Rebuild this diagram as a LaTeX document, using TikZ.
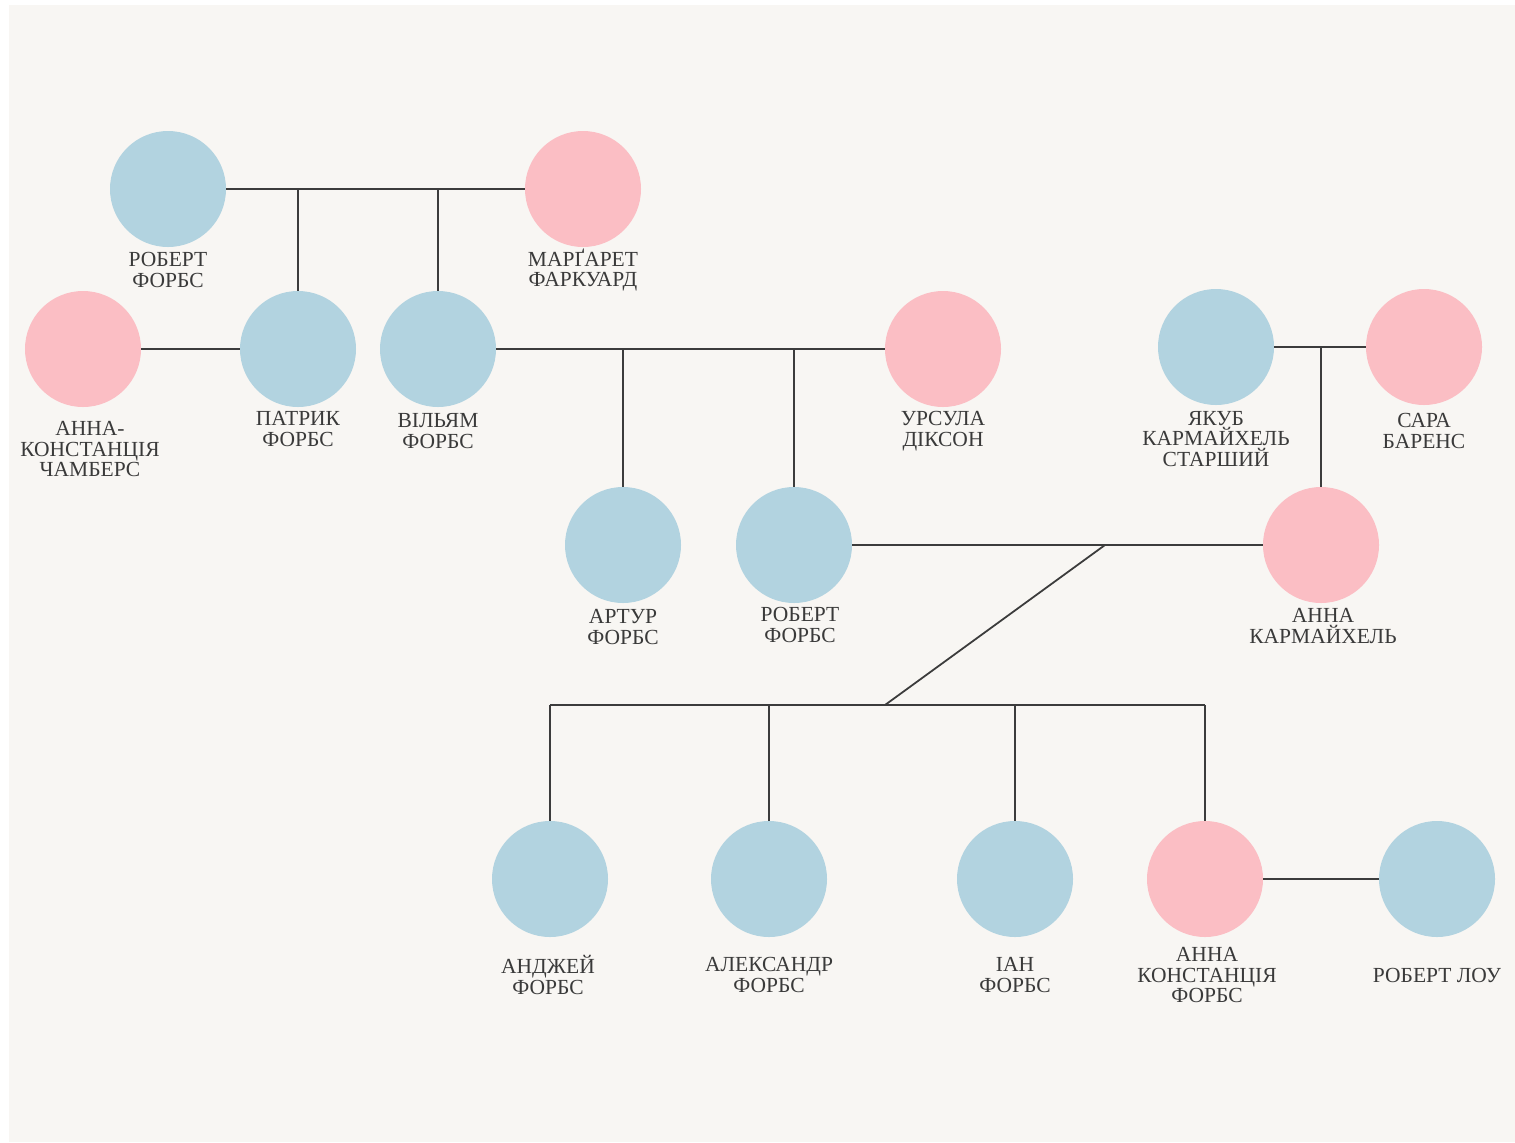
\documentclass[tikz,border=0pt]{standalone}
\usepackage{fontspec}
\setmainfont{Liberation Serif}
\definecolor{bgc}{HTML}{F8F6F3}
\definecolor{boy}{HTML}{B2D3E0}
\definecolor{girl}{HTML}{FBBEC4}
\definecolor{linec}{HTML}{3C3C3C}
\definecolor{txtc}{HTML}{3A3A3A}
\tikzset{
  person/.style={circle, minimum size=116bp, inner sep=0pt, draw=none},
  male/.style={person, fill=boy},
  female/.style={person, fill=girl},
  pname/.style={align=center, text=txtc, inner sep=0pt,
    font=\fontsize{21.5bp}{20.8bp}\selectfont},
  link/.style={draw=linec, line width=1.8bp},
}
\begin{document}
\begin{tikzpicture}[x=1bp,y=-1bp]
\useasboundingbox (0,0) rectangle (1515,1142);
\fill[white] (0,0) rectangle (1515,1142);
\fill[bgc] (9,5) rectangle (1515,1142);

% people
\node[male]   (rf1) at (168,189) {};
\node[female] (mf)  at (583,189) {};
\node[female] (acc) at (83,349) {};
\node[male]   (pf)  at (298,349) {};
\node[male]   (wf)  at (438,349) {};
\node[female] (ud)  at (943,349) {};
\node[male]   (jk)  at (1216,347) {};
\node[female] (sb)  at (1424,347) {};
\node[male]   (af)  at (623,545) {};
\node[male]   (rf2) at (794,545) {};
\node[female] (ak)  at (1321,545) {};
\node[male]   (anf) at (550,879) {};
\node[male]   (alf) at (769,879) {};
\node[male]   (if)  at (1015,879) {};
\node[female] (akf) at (1205,879) {};
\node[male]   (rl)  at (1437,879) {};

% names
\node[pname] (t-rf1) at (168,270) {РОБЕРТ\\ФОРБС};
\node[pname] (t-mf)  at (583,270) {МАРҐАРЕТ\\ФАРКУАРД};
\node[pname] (t-acc) at (90,449) {АННА-\\КОНСТАНЦІЯ\\ЧАМБЕРС};
\node[pname] (t-pf)  at (298,429) {ПАТРИК\\ФОРБС};
\node[pname] (t-wf)  at (438,431) {ВІЛЬЯМ\\ФОРБС};
\node[pname] (t-ud)  at (943,431) {УРСУЛА\\ДІКСОН};
\node[pname] (t-jk)  at (1216,439) {ЯКУБ\\КАРМАЙХЕЛЬ\\СТАРШИЙ};
\node[pname] (t-sb)  at (1424,431) {САРА\\БАРЕНС};
\node[pname] (t-af)  at (623,627) {АРТУР\\ФОРБС};
\node[pname] (t-rf2) at (800,625) {РОБЕРТ\\ФОРБС};
\node[pname] (t-ak)  at (1323,626) {АННА\\КАРМАЙХЕЛЬ};
\node[pname] (t-anf) at (548,975) {АНДЖЕЙ\\ФОРБС};
\node[pname] (t-alf) at (769,975) {АЛЕКСАНДР\\ФОРБС};
\node[pname] (t-if)  at (1015,975) {ІАН\\ФОРБС};
\node[pname] (t-akf) at (1207,975) {АННА\\КОНСТАНЦІЯ\\ФОРБС};
\node[pname] (t-rl)  at (1437,975.5) {РОБЕРТ ЛОУ};

% junctions
\coordinate (j1) at (298,189);
\coordinate (j2) at (438,189);
\coordinate (j3) at (623,349);
\coordinate (j4) at (794,349);
\coordinate (j5) at (1321,347);
\coordinate (j6) at (1105,545);
\coordinate (j7) at (885,705);
\coordinate (k1) at (550,705);
\coordinate (k2) at (769,705);
\coordinate (k3) at (1015,705);
\coordinate (k4) at (1205,705);

% connectors
\draw[link] (rf1) -- (mf);
\draw[link] (j1) -- (pf);
\draw[link] (j2) -- (wf);
\draw[link] (acc) -- (pf);
\draw[link] (wf) -- (ud);
\draw[link] (j3) -- (af);
\draw[link] (j4) -- (rf2);
\draw[link] (jk) -- (sb);
\draw[link] (j5) -- (ak);
\draw[link] (rf2) -- (ak);
\draw[link] (j6) -- (j7);
\draw[link] (k1) -- (k4);
\draw[link] (k1) -- (anf);
\draw[link] (k2) -- (alf);
\draw[link] (k3) -- (if);
\draw[link] (k4) -- (akf);
\draw[link] (akf) -- (rl);
\end{tikzpicture}
\end{document}
